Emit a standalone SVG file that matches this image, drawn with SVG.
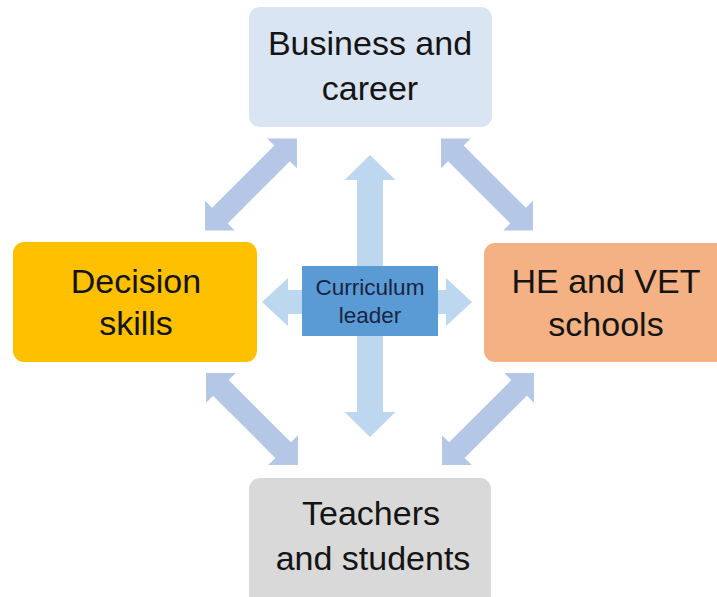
<svg xmlns="http://www.w3.org/2000/svg" xmlns:xlink="http://www.w3.org/1999/xlink" width="717" height="597" viewBox="0 0 717 597">
  <style>
    .lbl { font-family: "Liberation Sans", Arial, sans-serif; font-size: 34px; fill: #141414; text-anchor: middle; }
    .clbl { font-family: "Liberation Sans", Arial, sans-serif; font-size: 22.5px; fill: #18243f; text-anchor: middle; }
    .diag { fill: #b4c7e7; }
    .axis { fill: #bdd7ee; }
  </style>
  <defs>
    <polygon id="dblarrow" points="-65,0 -44,-21 -44,-11 44,-11 44,-21 65,0 44,21 44,11 -44,11 -44,21"/>
  </defs>
  <rect x="0" y="0" width="717" height="597" fill="#ffffff"/>
  <g id="connectors">
    <use xlink:href="#dblarrow" class="diag" transform="translate(251,184.5) rotate(-45)"/>
    <use xlink:href="#dblarrow" class="diag" transform="translate(487,184.5) rotate(45)"/>
    <use xlink:href="#dblarrow" class="diag" transform="translate(252,419) rotate(45)"/>
    <use xlink:href="#dblarrow" class="diag" transform="translate(488,419) rotate(-45)"/>
    <polygon class="axis" points="370,155 395.5,180 383,180 383,412 395.5,412 370,437 344.5,412 357,412 357,180 344.5,180"/>
    <polygon class="axis" points="262,302 288,278 288,290 446,290 446,278 472,302 446,326 446,314 288,314 288,326"/>
  </g>
  <g id="business">
    <rect x="249" y="7" width="243" height="120" rx="11" fill="#dae5f3"/>
    <text class="lbl" x="370" y="55">Business and</text>
    <text class="lbl" x="370" y="100">career</text>
  </g>
  <g id="decision">
    <rect x="13" y="242" width="244" height="120" rx="11" fill="#ffc000"/>
    <text class="lbl" x="136" y="293">Decision</text>
    <text class="lbl" x="136" y="335">skills</text>
  </g>
  <g id="he-vet">
    <rect x="484" y="243" width="250" height="119" rx="11" fill="#f4b183"/>
    <text class="lbl" x="606" y="293">HE and VET</text>
    <text class="lbl" x="606" y="336">schools</text>
  </g>
  <g id="teachers">
    <rect x="249" y="478" width="242" height="135" rx="11" fill="#d9d9d9"/>
    <text class="lbl" x="371" y="525">Teachers</text>
    <text class="lbl" x="373" y="570">and students</text>
  </g>
  <g id="curriculum">
    <rect x="302" y="266" width="136" height="70" fill="#5b9bd5"/>
    <text class="clbl" x="370" y="295">Curriculum</text>
    <text class="clbl" x="370" y="323">leader</text>
  </g>
</svg>
